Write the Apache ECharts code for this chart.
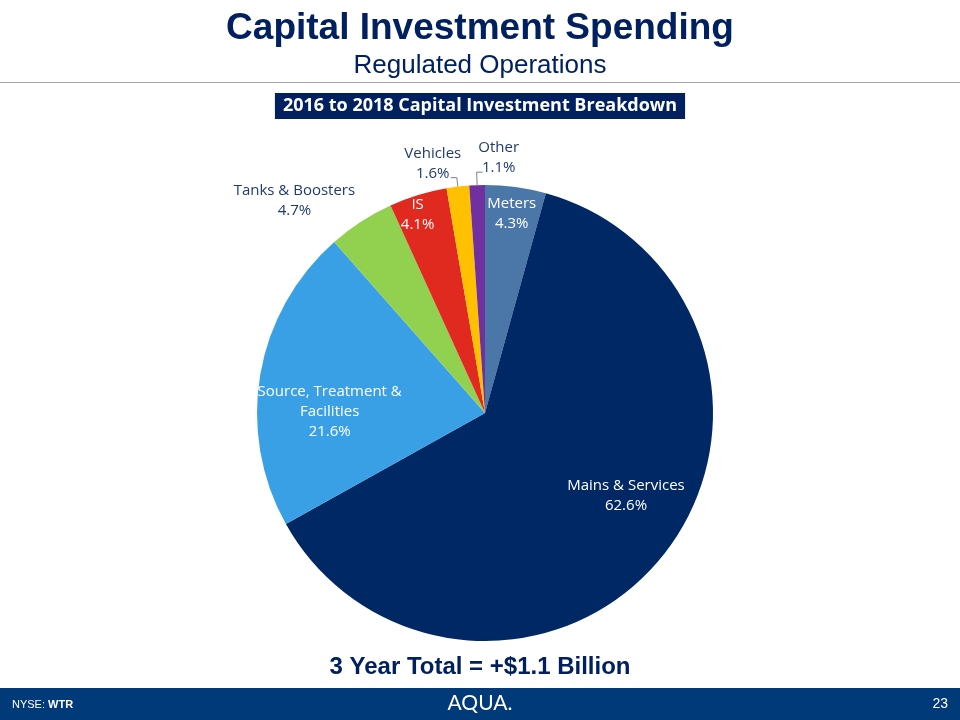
<!DOCTYPE html>
<html>
<head>
<meta charset="utf-8">
<script src="https://cdn.jsdelivr.net/npm/echarts@6/dist/echarts.min.js"></script>
<style>
    html, body { margin: 0; padding: 0; background: #fff; }
    #chart { width: 960px; height: 720px; }
</style>
</head>
<body>
<div id="chart"></div>
<script>
// data
var categories  = ['Meters', 'Mains & Services', 'Source, Treatment &\nFacilities', 'Tanks & Boosters', 'IS', 'Vehicles', 'Other'];
var shares      = [4.3, 62.6, 21.6, 4.7, 4.1, 1.6, 1.1];
var sliceColors = ['#4a76a8', '#002864', '#3aa0e5', '#92d050', '#e0291f', '#ffc000', '#7030a0'];

// label placement (styling only)
var labelInside = [true, true, true, true, true, false, false];
var labelWhite  = [true, true, true, false, true, false, false];
var labelShift  = [[11, -83], [49, 10], [-40, 18], [-127, -114], [-33, -86], [-18, -14], [16, -14]];
var lineLength  = [0, 0, 0, 0, 0, 9, 13];
var labelMirror = [false, false, false, false, false, false, true];

var navy = '#1f3a6e';

var chart = echarts.init(document.getElementById('chart'));

var pieData = categories.map(function (name, i) {
    return {
        name: name,
        value: shares[i],
        itemStyle: { color: sliceColors[i] },
        label: {
            position: labelInside[i] ? 'inside' : 'outside',
            color: labelWhite[i] ? '#ffffff' : navy
        },
        labelLine: { show: !labelInside[i], length: lineLength[i] || 6 }
    };
});

chart.setOption({
    animation: false,
    title: [{
        text: 'Capital Investment Spending',
        left: 'center',
        top: 10,
        padding: 0,
        textStyle: { fontFamily: 'Liberation Sans', fontWeight: 'bold', fontSize: 37, color: '#002060' }
    }, {
        text: 'Regulated Operations',
        left: 'center',
        top: 53,
        padding: 0,
        textStyle: { fontFamily: 'Liberation Sans', fontWeight: 'normal', fontSize: 26, color: '#002060' }
    }, {
        text: '2016 to 2018 Capital Investment Breakdown',
        left: 'center',
        top: 93,
        padding: [4, 8],
        backgroundColor: '#002060',
        textStyle: { fontFamily: 'Open Sans', fontWeight: 'bold', fontSize: 18, color: '#ffffff' }
    }, {
        text: '3 Year Total = +$1.1 Billion',
        left: 'center',
        top: 655,
        padding: 0,
        textStyle: { fontFamily: 'Liberation Sans', fontWeight: 'bold', fontSize: 24, color: '#002060' }
    }],
    graphic: [{
        type: 'line',
        shape: { x1: 0, y1: 82.5, x2: 960, y2: 82.5 },
        style: { stroke: '#a6a6a6', lineWidth: 1 }
    }, {
        type: 'rect',
        shape: { x: 0, y: 688, width: 960, height: 32 },
        style: { fill: '#003a78' }
    }, {
        type: 'text',
        left: 12,
        top: 699,
        style: {
            text: '{n|NYSE: }{b|WTR}',
            rich: {
                n: { fontFamily: 'Liberation Sans', fontSize: 11, fill: '#ffffff' },
                b: { fontFamily: 'Liberation Sans', fontSize: 11, fontWeight: 'bold', fill: '#ffffff' }
            }
        }
    }, {
        type: 'text',
        left: 'center',
        top: 693,
        style: { text: 'AQUA.', fontFamily: 'Lato', fontSize: 21, fill: '#ffffff' }
    }, {
        type: 'text',
        right: 12,
        top: 697,
        style: { text: '23', fontFamily: 'Liberation Sans', fontSize: 14, fill: '#ffffff' }
    }],
    series: [{
        type: 'pie',
        center: [485, 413],
        radius: [0, 228],
        startAngle: 90,
        clockwise: true,
        avoidLabelOverlap: false,
        label: {
            formatter: function (p) { return p.name + '\n' + p.value.toFixed(1) + '%'; },
            fontFamily: 'Open Sans',
            fontSize: 15,
            lineHeight: 20,
            align: 'center'
        },
        labelLine: {
            length2: 6,
            smooth: false,
            lineStyle: { color: '#7f7f7f', width: 1 }
        },
        labelLayout: function (p) {
            var i = p.dataIndex;
            var s = labelShift[i];
            if (!labelInside[i] && p.labelLinePoints) {
                var a = p.labelLinePoints[0];
                var b = p.labelLinePoints[1];
                var c = p.labelLinePoints[2];
                var side = labelMirror[i] ? 1 : -1;
                var end = [b[0] + side * Math.abs(c[0] - b[0]), b[1]];
                return {
                    x: end[0] + s[0],
                    y: end[1] + s[1],
                    align: 'center',
                    verticalAlign: 'middle',
                    labelLinePoints: [a, b, end]
                };
            }
            return { dx: s[0], dy: s[1] };
        },
        emphasis: { disabled: true },
        data: pieData
    }]
});

window.addEventListener('resize', function () {
    chart.resize();
});
</script>
</body>
</html>
